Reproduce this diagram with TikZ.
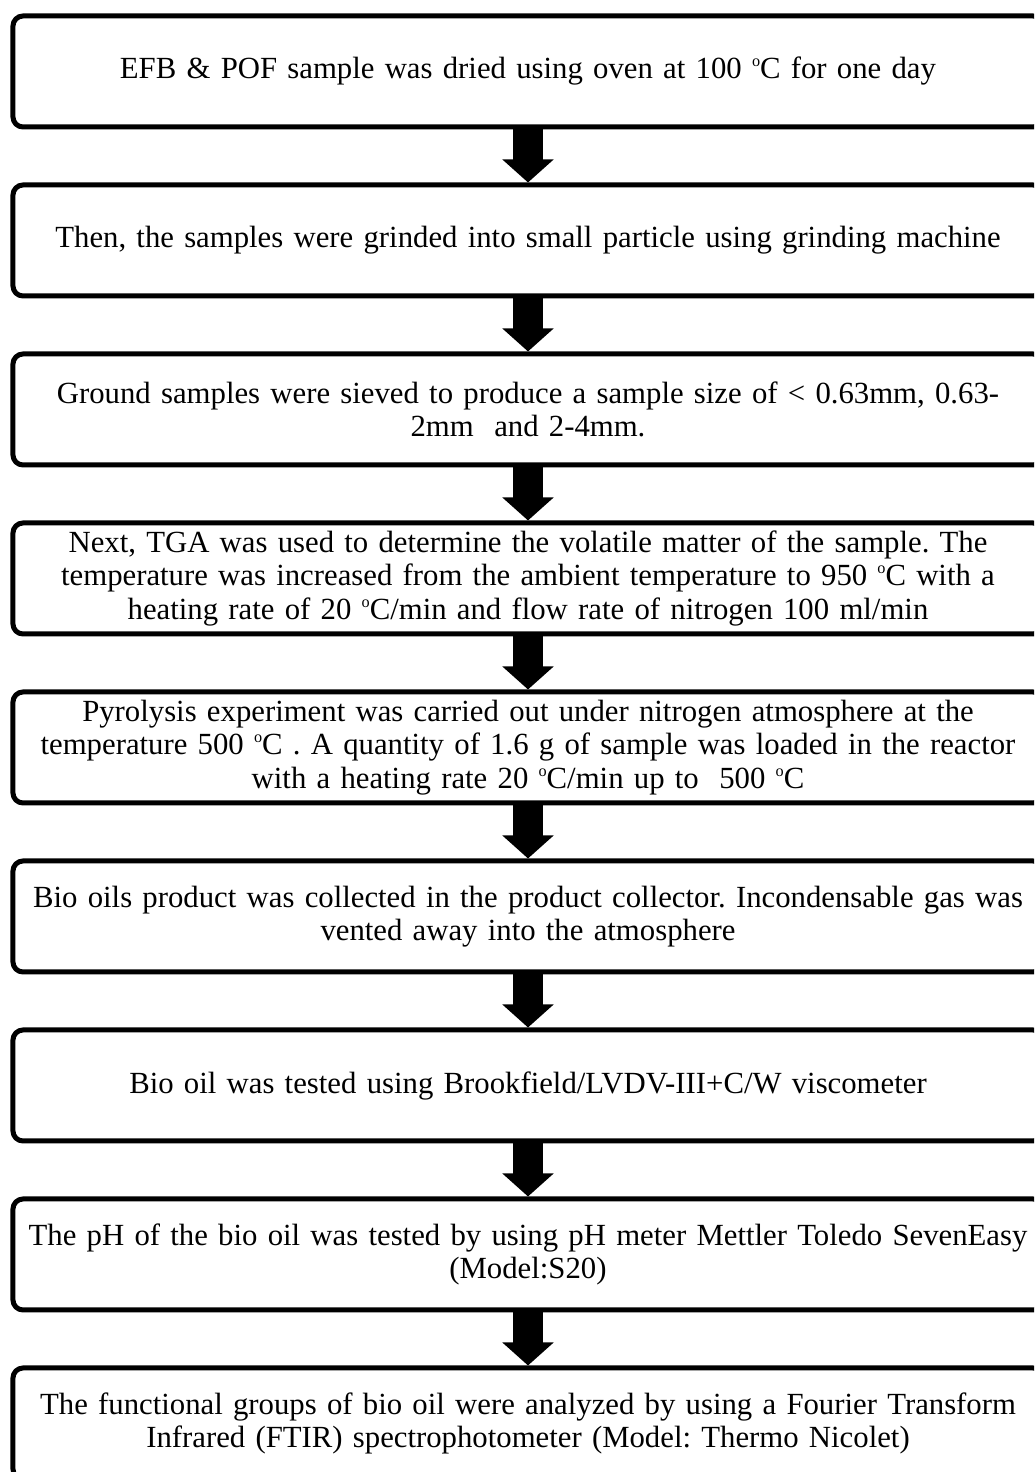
\documentclass[tikz,border=0pt]{standalone}
\usepackage{fontspec}
\setmainfont{Liberation Serif}
\usepackage{tikz}
\usetikzlibrary{arrows.meta,positioning}
\frenchspacing
\tikzstyle{stepbox}=[draw,rectangle,rounded corners=4pt,line width=2pt,minimum width=412pt,minimum height=44.4pt,inner sep=2pt,text width=406pt,align=center,font=\fontsize{12.3pt}{13.3pt}\selectfont]
\tikzstyle{flow}=[line width=12pt,-{Triangle[width=20pt,length=9.2pt]}]
\newcommand{\degC}{\raisebox{4.8pt}{\fontsize{6.5pt}{6.5pt}\selectfont o}C}

\begin{document}
\begin{tikzpicture}[x=0.4pt,y=0.4pt]
\useasboundingbox (0,0) rectangle (1034,1472);
\clip (0,0) rectangle (1034,1472);
\draw (528, 1400.5) node [stepbox] (n1) {EFB \& POF sample was dried using oven at 100 \degC{} for one day};
\draw (528, 1231.5) node [stepbox] (n2) {Then, the samples were grinded into small particle using grinding machine};
\draw (528, 1062.5) node [stepbox] (n3) {Ground samples were sieved to produce a sample size of < 0.63mm, 0.63-\\2mm~ and 2-4mm.};
\draw (528, 893.5) node [stepbox] (n4) {Next, TGA was used to determine the volatile matter of the sample. The\\temperature was increased from the ambient temperature to 950 \degC{} with a\\heating rate of 20 \degC/min and flow rate of nitrogen 100 ml/min};
\draw (528, 724.5) node [stepbox] (n5) {Pyrolysis experiment was carried out under nitrogen atmosphere at the\\temperature 500 \degC{} . A quantity of 1.6 g of sample was loaded in the reactor\\with a heating rate 20 \degC/min up to~ 500 \degC};
\draw (528, 555.5) node [stepbox] (n6) {Bio oils product was collected in the product collector. Incondensable gas was\\vented away into the atmosphere};
\draw (528, 386.5) node [stepbox] (n7) {Bio oil was tested using Brookfield/LVDV-III+C/W viscometer};
\draw (528, 217.5) node [stepbox] (n8) {The pH of the bio oil was tested by using pH meter Mettler Toledo SevenEasy\\(Model:S20)};
\draw (528, 48.5) node [stepbox] (n9) {The functional groups of bio oil were analyzed by using a Fourier Transform\\Infrared (FTIR) spectrophotometer (Model: Thermo Nicolet)};
\draw[flow] (n1) -- (n2);
\draw[flow] (n2) -- (n3);
\draw[flow] (n3) -- (n4);
\draw[flow] (n4) -- (n5);
\draw[flow] (n5) -- (n6);
\draw[flow] (n6) -- (n7);
\draw[flow] (n7) -- (n8);
\draw[flow] (n8) -- (n9);
\end{tikzpicture}
\end{document}
